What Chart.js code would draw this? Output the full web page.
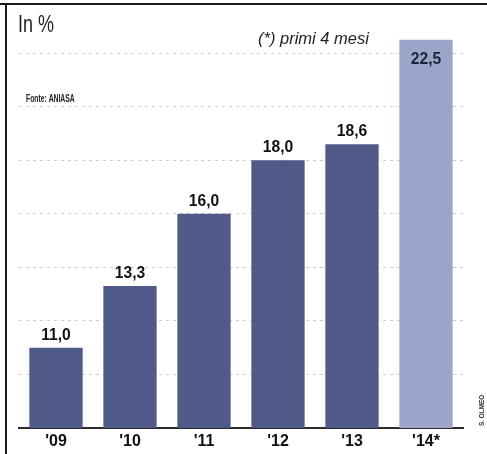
<!DOCTYPE html>
<html>
<head>
<meta charset="utf-8">
<script src="https://cdn.jsdelivr.net/npm/chart.js@4/dist/chart.umd.min.js"></script>
<style>
  html, body { margin: 0; padding: 0; background: #ffffff; }
  #wrap { position: relative; width: 487px; height: 454px; }
  canvas { display: block; }
</style>
</head>
<body>
<div id="wrap"><canvas id="c" width="487" height="454"></canvas></div>
<script>
// Share of rentals (in %), by year; 2014 covers the first four months only
const years = ["'09", "'10", "'11", "'12", "'13", "'14*"];
const shares = [11.0, 13.3, 16.0, 18.0, 18.6, 22.5];
const gridValues = [10, 12, 14, 16, 18, 20, 22];

const darkBar = '#4f5a88';
const lightBar = '#9ca5c9';
const barColors = shares.map((v, i) => i === shares.length - 1 ? lightBar : darkBar);

const fmt = v => v.toFixed(1).replace('.', ',');

// Draw text squeezed horizontally (condensed look)
function narrowText(ctx, text, x, y, sx) {
  ctx.save();
  ctx.translate(x, y);
  ctx.scale(sx, 1);
  ctx.fillText(text, 0, 0);
  ctx.restore();
}

// Value labels: above the bar, or inside the top for the partial-year bar
const valueLabels = {
  id: 'valueLabels',
  afterDatasetsDraw(chart) {
    const ctx = chart.ctx;
    const meta = chart.getDatasetMeta(0);
    ctx.save();
    ctx.font = 'bold 17px "Liberation Sans", Arial, sans-serif';
    ctx.textAlign = 'center';
    meta.data.forEach((bar, i) => {
      const last = i === shares.length - 1;
      if (last) {
        ctx.fillStyle = '#1b2238';
        ctx.textBaseline = 'top';
        narrowText(ctx, fmt(shares[i]), bar.x, bar.y + 11, 0.92);
      } else {
        ctx.fillStyle = '#111111';
        ctx.textBaseline = 'alphabetic';
        narrowText(ctx, fmt(shares[i]), bar.x, bar.y - 8, 0.92);
      }
    });
    ctx.restore();
  }
};

// Frame lines, headings and credit
const decorations = {
  id: 'decorations',
  afterDraw(chart) {
    const ctx = chart.ctx;
    ctx.save();
    ctx.fillStyle = '#1a1a1a';
    ctx.fillRect(0, 3, 487, 2);
    ctx.fillRect(5, 3, 2, 451);

    ctx.fillStyle = '#222222';
    ctx.textBaseline = 'alphabetic';
    ctx.textAlign = 'left';
    ctx.font = '23px "Liberation Sans", Arial, sans-serif';
    narrowText(ctx, 'In %', 18, 32, 0.78);

    ctx.font = 'italic 17px "Liberation Sans", Arial, sans-serif';
    narrowText(ctx, '(*) primi 4 mesi', 258, 44, 0.97);

    ctx.font = 'bold 10px "Liberation Sans", Arial, sans-serif';
    narrowText(ctx, 'Fonte: ANIASA', 26, 102, 0.68);

    ctx.translate(484, 426);
    ctx.rotate(-Math.PI / 2);
    ctx.font = 'bold 8px "Liberation Sans", Arial, sans-serif';
    ctx.fillStyle = '#333333';
    narrowText(ctx, 'S. OLMEO', 0, 0, 0.8);
    ctx.restore();
  }
};

new Chart(document.getElementById('c'), {
  type: 'bar',
  data: {
    labels: years,
    datasets: [{
      data: shares,
      backgroundColor: barColors,
      borderWidth: 0,
      barPercentage: 0.72,
      categoryPercentage: 1.0
    }]
  },
  options: {
    responsive: false,
    animation: false,
    events: [],
    layout: { padding: { left: 19, right: 24, top: 13, bottom: 4 } },
    plugins: { legend: { display: false }, tooltip: { enabled: false } },
    scales: {
      x: {
        grid: { display: false },
        border: { display: true, color: '#2a2a2a', width: 2 },
        ticks: {
          color: '#111111',
          padding: -4,
          font: { family: '"Liberation Sans", Arial, sans-serif', size: 16, weight: 'bold' }
        },
        afterFit(axis) { axis.height = 22; }
      },
      y: {
        min: 8,
        max: 23.5,
        afterBuildTicks(axis) {
          axis.ticks = gridValues.map(v => ({ value: v }));
        },
        ticks: { display: false },
        border: { display: false, dash: [3, 4] },
        grid: {
          color: '#cdcdcd',
          lineWidth: 1,
          drawTicks: false
        },
        afterFit(axis) { axis.width = 0; }
      }
    }
  },
  plugins: [valueLabels, decorations]
});
</script>
</body>
</html>
